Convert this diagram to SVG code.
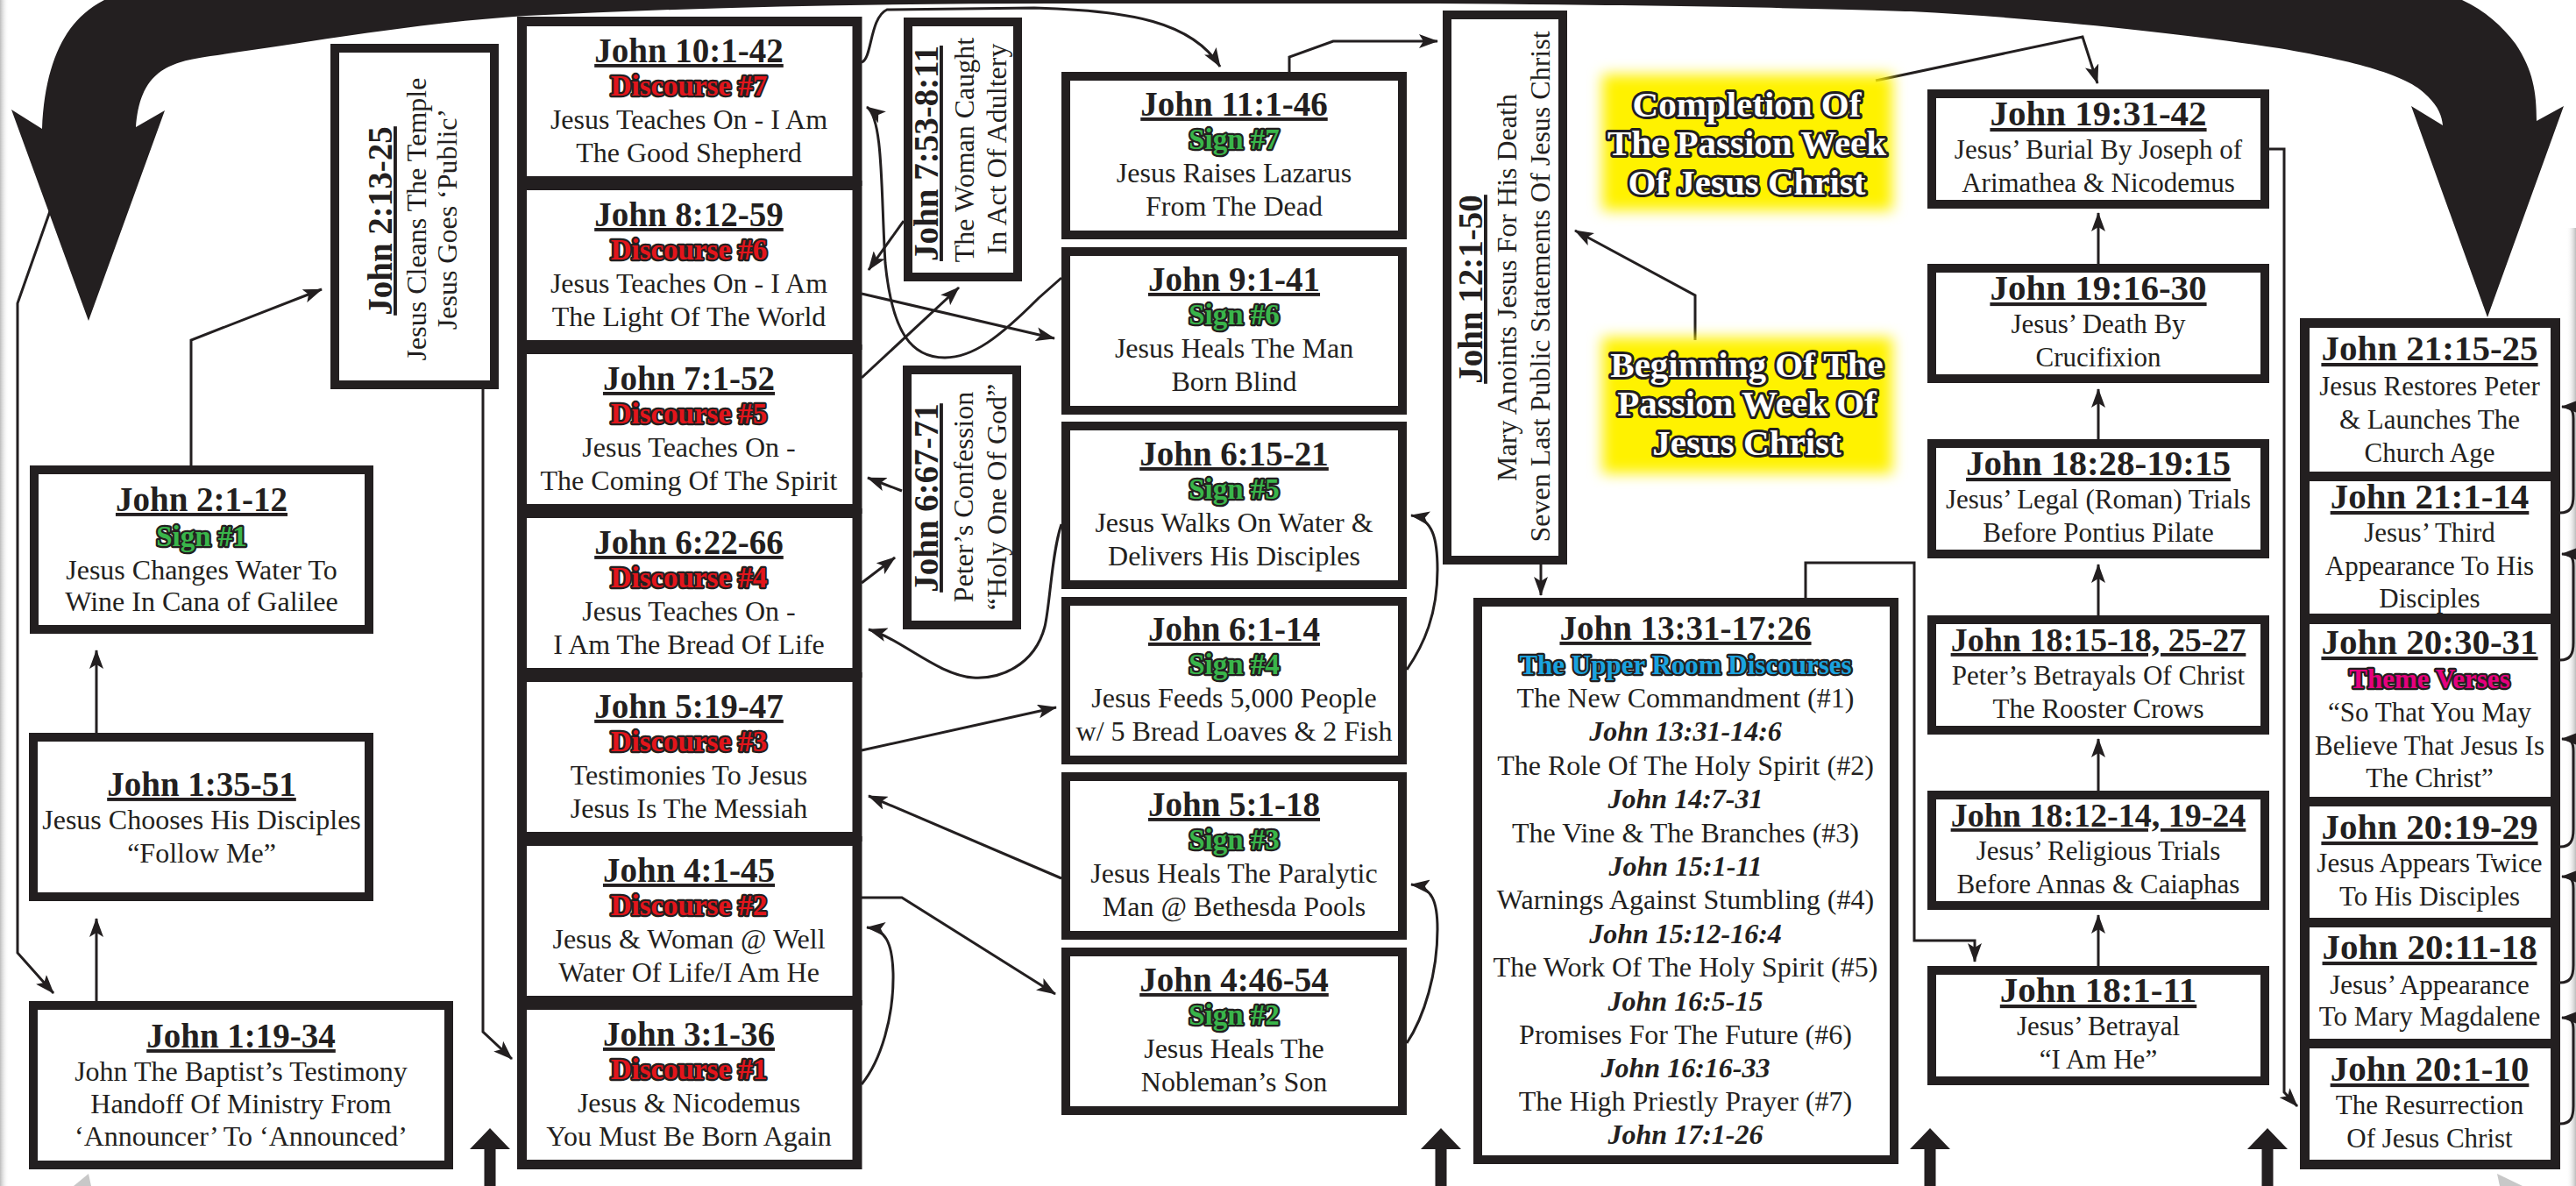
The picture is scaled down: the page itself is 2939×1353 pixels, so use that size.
<svg xmlns="http://www.w3.org/2000/svg" width="2939" height="1353" viewBox="0 0 2939 1353">
<defs>
<style>
.box{fill:#fff;stroke:#231f20;stroke-width:10}
.bx{fill:#fff;stroke:#231f20;stroke-width:11}
text{font-family:"Liberation Serif","Times New Roman",serif;fill:#231f20;text-anchor:middle}
.ti{font-weight:bold;font-size:39px;text-decoration:underline}
.ti2{font-weight:bold;font-size:41px;text-decoration:underline}
.ti3{font-weight:bold;font-size:38px;text-decoration:underline}
.b{font-size:32px}
.b2{font-size:31px}
.it{font-size:32px;font-weight:bold;font-style:italic}
.sg{font-weight:bold;font-size:33px;fill:#39b54a;stroke:#231f20;stroke-width:4.5;paint-order:stroke;stroke-linejoin:round}
.dc{font-weight:bold;font-size:33px;fill:#e3151b;stroke:#231f20;stroke-width:4.5;paint-order:stroke;stroke-linejoin:round}
.up{font-weight:bold;font-size:31px;fill:#1aa3df;stroke:#231f20;stroke-width:4.5;paint-order:stroke;stroke-linejoin:round}
.th{font-weight:bold;font-size:31px;fill:#e6007e;stroke:#231f20;stroke-width:4.5;paint-order:stroke;stroke-linejoin:round}
.yl{font-weight:bold;font-size:41px;fill:#fff;stroke:#231f20;stroke-width:6;paint-order:stroke;stroke-linejoin:round}
.ybox{fill:#fff200;filter:url(#glow)}
.cn{fill:none;stroke:#231f20;stroke-width:3;marker-end:url(#arr)}
.cs{fill:none;stroke:#231f20;stroke-width:3;marker-end:url(#arrS)}
.big{fill:#231f20}
</style>
<marker id="arr" markerUnits="userSpaceOnUse" viewBox="0 0 22 16" markerWidth="22" markerHeight="16" refX="21" refY="8" orient="auto"><path d="M0,0 L22,8 L0,16 L5,8 Z" fill="#231f20"/></marker>
<marker id="arrS" markerUnits="userSpaceOnUse" viewBox="0 0 18 14" markerWidth="18" markerHeight="14" refX="17" refY="7" orient="auto"><path d="M0,0 L18,7 L0,14 Z" fill="#231f20"/></marker>
<filter id="glow" x="-15%" y="-25%" width="130%" height="150%"><feGaussianBlur stdDeviation="8"/></filter>
<linearGradient id="edgeL" x1="0" x2="1" y1="0" y2="0"><stop offset="0" stop-color="#bdbdbd"/><stop offset="1" stop-color="#fff" stop-opacity="0"/></linearGradient>
<linearGradient id="edgeR" x1="0" x2="1" y1="0" y2="0"><stop offset="0" stop-color="#fff" stop-opacity="0"/><stop offset="1" stop-color="#bdbdbd"/></linearGradient>
</defs>
<rect x="0" y="0" width="2939" height="1353" fill="#fff"/>
<rect x="0" y="0" width="10" height="1353" fill="url(#edgeL)"/>
<rect x="2928" y="260" width="11" height="1093" fill="url(#edgeR)"/>

<g id="big-arrows">
<path class="big" d="M48,147 L13,125 L101,366 L188,126 L155,145 C157,118 164,95 184,81 C200,71 214,68 240,64 C380,44 480,26 600,18 C800,8 1000,4 1200,4 L1640,4 C1900,6 2100,10 2180,13 C2350,22 2500,40 2600,55 C2700,72 2750,88 2770,110 C2782,122 2786,132 2787,143 L2751,121 L2838,362 L2925,121 L2894,138 C2894,105 2890,80 2870,50 C2855,30 2835,12 2809,0 L2790,-40 L130,-40 L119,0 C100,10 90,20 80,33 C62,58 50,95 48,147 Z"/>
<path class="big" d="M559,1287 L582,1311 L565.5,1311 L565.5,1353 L552.5,1353 L552.5,1311 L536,1311 Z"/>
<path class="big" d="M1644,1287 L1667,1311 L1650.5,1311 L1650.5,1353 L1637.5,1353 L1637.5,1311 L1621,1311 Z"/>
<path class="big" d="M2202,1287 L2225,1311 L2208.5,1311 L2208.5,1353 L2195.5,1353 L2195.5,1311 L2179,1311 Z"/>
<path class="big" d="M2587,1287 L2610,1311 L2593.5,1311 L2593.5,1353 L2580.5,1353 L2580.5,1311 L2564,1311 Z"/>
<polygon points="101,1339 84,1353 104,1353" fill="#c8c8c8"/>
<polygon points="2849,1339 2878,1353 2852,1353" fill="#c8c8c8"/>
</g>

<g id="connectors">
<path class="cn" d="M57,241 L20,346 L20,1087 L61,1133"/>
<path class="cn" d="M110,1142 L110,1048"/>
<path class="cn" d="M110,836 L110,742"/>
<path class="cn" d="M218,531 L218,388 L367,330"/>
<path class="cn" d="M551,444 L551,1177 L584,1208"/>
<path class="cn" d="M983,71 C995,68 992,20 1012,11 L1180,9 C1290,12 1360,25 1392,76"/>
<path class="cn" d="M1211,317 L1185,340 C1140,385 1110,408 1078,408 C1040,408 1018,380 1010,300 C1005,220 1008,135 989,122"/>
<path class="cn" d="M1031,252 L991,308"/>
<path class="cn" d="M983,335 L1203,386"/>
<path class="cn" d="M983,431 L1094,328"/>
<path class="cn" d="M1029,560 L990,545"/>
<path class="cn" d="M983,665 L1021,636"/>
<path class="cn" d="M1211,598 C1200,630 1198,690 1192,715 C1180,760 1140,775 1110,773 C1070,770 1030,730 991,718"/>
<path class="cn" d="M983,856 L1205,807"/>
<path class="cn" d="M1211,1002 L991,908"/>
<path class="cn" d="M983,1024 L1029,1024 L1204,1134"/>
<path class="cn" d="M983,1237 C1005,1210 1020,1160 1019,1110 C1018,1075 1010,1060 989,1058"/>
<path class="cn" d="M1605,764 C1625,735 1640,700 1640,650 C1640,615 1635,592 1610,588"/>
<path class="cn" d="M1605,1190 C1625,1160 1640,1110 1640,1060 C1640,1030 1635,1012 1610,1009"/>
<path class="cn" d="M1471,82 L1471,65 L1521,47 L1640,47"/>
<path class="cn" d="M1758,644 L1758,679"/>
<path class="cn" d="M1934,388 L1934,337 L1797,263"/>
<path class="cn" d="M2140,92 L2376,42 L2393,95"/>
<path class="cn" d="M2060,682 L2060,642 L2184,642 L2184,1073 L2253,1073 L2253,1097"/>
<path class="cn" d="M2394,301 L2394,243"/>
<path class="cn" d="M2394,501 L2394,444"/>
<path class="cn" d="M2394,702 L2394,644"/>
<path class="cn" d="M2394,902 L2394,843"/>
<path class="cn" d="M2394,1102 L2394,1044"/>
<path class="cn" d="M2589,170 L2606,170 L2606,1246 L2621,1262"/>
<path class="cs" d="M2921,585 C2932,585 2936,579 2936,565 L2936,478 C2936,468 2934,464 2923,464"/>
<path class="cs" d="M2921,753 C2932,753 2936,747 2936,733 L2936,646 C2936,636 2934,632 2923,632"/>
<path class="cs" d="M2921,966 C2932,966 2936,960 2936,946 L2936,857 C2936,847 2934,843 2923,843"/>
<path class="cs" d="M2921,1121 C2932,1121 2936,1115 2936,1101 L2936,1014 C2936,1004 2934,1000 2923,1000"/>
<path class="cs" d="M2921,1282 C2932,1282 2936,1276 2936,1262 L2936,1175 C2936,1165 2934,1161 2923,1161"/>
</g>

<g id="n-john-1-19-34"><rect class="box" x="38" y="1147" width="474" height="182"/>
<text x="275" y="1195" class="ti">John 1:19-34</text>
<text x="275" y="1233" class="b">John The Baptist’s Testimony</text>
<text x="275" y="1270" class="b">Handoff Of Ministry From</text>
<text x="275" y="1307" class="b">‘Announcer’ To ‘Announced’</text></g>
<g id="n-john-1-35-51"><rect class="box" x="38" y="841" width="383" height="182"/>
<text x="230" y="908" class="ti">John 1:35-51</text>
<text x="230" y="946" class="b">Jesus Chooses His Disciples</text>
<text x="230" y="984" class="b">“Follow Me”</text></g>
<g id="n-john-2-1-12"><rect class="box" x="39" y="536" width="382" height="182"/>
<text x="230" y="583" class="ti">John 2:1-12</text>
<text x="230" y="623" class="sg">Sign #1</text>
<text x="230" y="661" class="b">Jesus Changes Water To</text>
<text x="230" y="697" class="b">Wine In Cana of Galilee</text></g>
<g id="n-john-2-13-25"><rect class="box" x="382" y="55" width="182" height="384"/>
<text class="ti" transform="translate(447,252) rotate(-90)">John 2:13-25</text>
<text class="b" transform="translate(486,250) rotate(-90)">Jesus Cleans The Temple</text>
<text class="b" transform="translate(521,250) rotate(-90)">Jesus Goes ‘Public’</text></g>

<g id="n-john-10-1-42"><rect class="bx" x="595.5" y="24.5" width="382.5" height="182"/>
<text x="786" y="71" class="ti">John 10:1-42</text><text x="786" y="109" class="dc">Discourse #7</text>
<text x="786" y="147" class="b">Jesus Teaches On - I Am</text><text x="786" y="185" class="b">The Good Shepherd</text></g>
<g id="n-john-8-12-59"><rect class="bx" x="595.5" y="211.5" width="382.5" height="182"/>
<text x="786" y="258" class="ti">John 8:12-59</text><text x="786" y="296" class="dc">Discourse #6</text>
<text x="786" y="334" class="b">Jesus Teaches On - I Am</text><text x="786" y="372" class="b">The Light Of The World</text></g>
<g id="n-john-7-1-52"><rect class="bx" x="595.5" y="398.5" width="382.5" height="182"/>
<text x="786" y="445" class="ti">John 7:1-52</text><text x="786" y="483" class="dc">Discourse #5</text>
<text x="786" y="521" class="b">Jesus Teaches On -</text><text x="786" y="559" class="b">The Coming Of The Spirit</text></g>
<g id="n-john-6-22-66"><rect class="bx" x="595.5" y="585.5" width="382.5" height="182"/>
<text x="786" y="632" class="ti">John 6:22-66</text><text x="786" y="670" class="dc">Discourse #4</text>
<text x="786" y="708" class="b">Jesus Teaches On -</text><text x="786" y="746" class="b">I Am The Bread Of Life</text></g>
<g id="n-john-5-19-47"><rect class="bx" x="595.5" y="772.5" width="382.5" height="182"/>
<text x="786" y="819" class="ti">John 5:19-47</text><text x="786" y="857" class="dc">Discourse #3</text>
<text x="786" y="895" class="b">Testimonies To Jesus</text><text x="786" y="933" class="b">Jesus Is The Messiah</text></g>
<g id="n-john-4-1-45"><rect class="bx" x="595.5" y="959.5" width="382.5" height="182"/>
<text x="786" y="1006" class="ti">John 4:1-45</text><text x="786" y="1044" class="dc">Discourse #2</text>
<text x="786" y="1082" class="b">Jesus &amp; Woman @ Well</text><text x="786" y="1120" class="b">Water Of Life/I Am He</text></g>
<g id="n-john-3-1-36"><rect class="bx" x="595.5" y="1146.5" width="382.5" height="182"/>
<text x="786" y="1193" class="ti">John 3:1-36</text><text x="786" y="1231" class="dc">Discourse #1</text>
<text x="786" y="1269" class="b">Jesus &amp; Nicodemus</text><text x="786" y="1307" class="b">You Must Be Born Again</text></g>

<g id="n-john-7-53-8-11"><rect class="box" x="1036" y="25" width="125" height="291"/>
<text class="ti" transform="translate(1070,175) rotate(-90)">John 7:53-8:11</text>
<text class="b" transform="translate(1111,171) rotate(-90)">The Woman Caught</text>
<text class="b" transform="translate(1148,170) rotate(-90)">In Act Of Adultery</text></g>
<g id="n-john-6-67-71"><rect class="box" x="1035" y="422" width="125" height="291"/>
<text class="ti" transform="translate(1070,568) rotate(-90)">John 6:67-71</text>
<text class="b" transform="translate(1110,567) rotate(-90)">Peter’s Confession</text>
<text class="b" transform="translate(1148,567) rotate(-90)">“Holy One Of God”</text></g>

<g id="n-john-11-1-46"><rect class="box" x="1216" y="87" width="384" height="181"/>
<text x="1408" y="132" class="ti">John 11:1-46</text><text x="1408" y="170" class="sg">Sign #7</text>
<text x="1408" y="208" class="b">Jesus Raises Lazarus</text><text x="1408" y="246" class="b">From The Dead</text></g>
<g id="n-john-9-1-41"><rect class="box" x="1216" y="287" width="384" height="181"/>
<text x="1408" y="332" class="ti">John 9:1-41</text><text x="1408" y="370" class="sg">Sign #6</text>
<text x="1408" y="408" class="b">Jesus Heals The Man</text><text x="1408" y="446" class="b">Born Blind</text></g>
<g id="n-john-6-15-21"><rect class="box" x="1216" y="486" width="384" height="181"/>
<text x="1408" y="531" class="ti">John 6:15-21</text><text x="1408" y="569" class="sg">Sign #5</text>
<text x="1408" y="607" class="b">Jesus Walks On Water &amp;</text><text x="1408" y="645" class="b">Delivers His Disciples</text></g>
<g id="n-john-6-1-14"><rect class="box" x="1216" y="686" width="384" height="181"/>
<text x="1408" y="731" class="ti">John 6:1-14</text><text x="1408" y="769" class="sg">Sign #4</text>
<text x="1408" y="807" class="b">Jesus Feeds 5,000 People</text><text x="1408" y="845" class="b">w/ 5 Bread Loaves &amp; 2 Fish</text></g>
<g id="n-john-5-1-18"><rect class="box" x="1216" y="886" width="384" height="181"/>
<text x="1408" y="931" class="ti">John 5:1-18</text><text x="1408" y="969" class="sg">Sign #3</text>
<text x="1408" y="1007" class="b">Jesus Heals The Paralytic</text><text x="1408" y="1045" class="b">Man @ Bethesda Pools</text></g>
<g id="n-john-4-46-54"><rect class="box" x="1216" y="1086" width="384" height="181"/>
<text x="1408" y="1131" class="ti">John 4:46-54</text><text x="1408" y="1169" class="sg">Sign #2</text>
<text x="1408" y="1207" class="b">Jesus Heals The</text><text x="1408" y="1245" class="b">Nobleman’s Son</text></g>

<g id="n-john-12-1-50"><rect class="box" x="1651" y="17" width="132" height="622"/>
<text class="ti" transform="translate(1691,330) rotate(-90)">John 12:1-50</text>
<text class="b" transform="translate(1730,328) rotate(-90)">Mary Anoints Jesus For His Death</text>
<text class="b" transform="translate(1768,327) rotate(-90)">Seven Last Public Statements Of Jesus Christ</text></g>

<g id="n-completion"><rect class="ybox" x="1828" y="85" width="331" height="155"/>
<text x="1993" y="133" class="yl">Completion Of</text>
<text x="1993" y="177" class="yl">The Passion Week</text>
<text x="1993" y="222" class="yl">Of Jesus Christ</text></g>
<g id="n-beginning"><rect class="ybox" x="1828" y="385" width="331" height="155"/>
<text x="1993" y="430" class="yl">Beginning Of The</text>
<text x="1993" y="474" class="yl">Passion Week Of</text>
<text x="1993" y="519" class="yl">Jesus Christ</text></g>

<g id="n-john-13-31-17-26"><rect class="box" x="1686" y="687" width="475" height="636"/>
<text x="1923" y="730" class="ti">John 13:31-17:26</text>
<text x="1923" y="769" class="up">The Upper Room Discourses</text>
<text x="1923" y="807" class="b">The New Commandment (#1)</text>
<text x="1923" y="845" class="it">John 13:31-14:6</text>
<text x="1923" y="884" class="b">The Role Of The Holy Spirit (#2)</text>
<text x="1923" y="922" class="it">John 14:7-31</text>
<text x="1923" y="961" class="b">The Vine &amp; The Branches (#3)</text>
<text x="1923" y="999" class="it">John 15:1-11</text>
<text x="1923" y="1037" class="b">Warnings Against Stumbling (#4)</text>
<text x="1923" y="1076" class="it">John 15:12-16:4</text>
<text x="1923" y="1114" class="b">The Work Of The Holy Spirit (#5)</text>
<text x="1923" y="1153" class="it">John 16:5-15</text>
<text x="1923" y="1191" class="b">Promises For The Future (#6)</text>
<text x="1923" y="1229" class="it">John 16:16-33</text>
<text x="1923" y="1267" class="b">The High Priestly Prayer (#7)</text>
<text x="1923" y="1305" class="it">John 17:1-26</text></g>

<g id="n-john-19-31-42"><rect class="box" x="2204" y="107" width="380" height="126"/>
<text x="2394" y="143" class="ti2">John 19:31-42</text>
<text x="2394" y="181" class="b2">Jesus’ Burial By Joseph of</text>
<text x="2394" y="219" class="b2">Arimathea &amp; Nicodemus</text></g>
<g id="n-john-19-16-30"><rect class="box" x="2204" y="306" width="380" height="126"/>
<text x="2394" y="342" class="ti2">John 19:16-30</text>
<text x="2394" y="380" class="b2">Jesus’ Death By</text>
<text x="2394" y="418" class="b2">Crucifixion</text></g>
<g id="n-john-18-28-19-15"><rect class="box" x="2204" y="506" width="380" height="126"/>
<text x="2394" y="542" class="ti2">John 18:28-19:15</text>
<text x="2394" y="580" class="b2">Jesus’ Legal (Roman) Trials</text>
<text x="2394" y="618" class="b2">Before Pontius Pilate</text></g>
<g id="n-john-18-15-18"><rect class="box" x="2204" y="707" width="380" height="126"/>
<text x="2394" y="743" class="ti3">John 18:15-18, 25-27</text>
<text x="2394" y="781" class="b2">Peter’s Betrayals Of Christ</text>
<text x="2394" y="819" class="b2">The Rooster Crows</text></g>
<g id="n-john-18-12-14"><rect class="box" x="2204" y="907" width="380" height="126"/>
<text x="2394" y="943" class="ti3">John 18:12-14, 19-24</text>
<text x="2394" y="981" class="b2">Jesus’ Religious Trials</text>
<text x="2394" y="1019" class="b2">Before Annas &amp; Caiaphas</text></g>
<g id="n-john-18-1-11"><rect class="box" x="2204" y="1107" width="380" height="126"/>
<text x="2394" y="1143" class="ti2">John 18:1-11</text>
<text x="2394" y="1181" class="b2">Jesus’ Betrayal</text>
<text x="2394" y="1219" class="b2">“I Am He”</text></g>

<g id="n-john-21-15-25"><rect class="bx" x="2629.5" y="368.5" width="286" height="175"/>
<text x="2772" y="411" class="ti2">John 21:15-25</text>
<text x="2772" y="451" class="b2">Jesus Restores Peter</text>
<text x="2772" y="489" class="b2">&amp; Launches The</text>
<text x="2772" y="527" class="b2">Church Age</text></g>
<g id="n-john-21-1-14"><rect class="bx" x="2629.5" y="543.5" width="286" height="162"/>
<text x="2772" y="580" class="ti2">John 21:1-14</text>
<text x="2772" y="618" class="b2">Jesus’ Third</text>
<text x="2772" y="656" class="b2">Appearance To His</text>
<text x="2772" y="693" class="b2">Disciples</text></g>
<g id="n-john-20-30-31"><rect class="bx" x="2629.5" y="706.5" width="286" height="208"/>
<text x="2772" y="746" class="ti2">John 20:30-31</text>
<text x="2772" y="785" class="th">Theme Verses</text>
<text x="2772" y="823" class="b2">“So That You May</text>
<text x="2772" y="861" class="b2">Believe That Jesus Is</text>
<text x="2772" y="898" class="b2">The Christ”</text></g>
<g id="n-john-20-19-29"><rect class="bx" x="2629.5" y="914.5" width="286" height="138"/>
<text x="2772" y="957" class="ti2">John 20:19-29</text>
<text x="2772" y="995" class="b2">Jesus Appears Twice</text>
<text x="2772" y="1033" class="b2">To His Disciples</text></g>
<g id="n-john-20-11-18"><rect class="bx" x="2629.5" y="1052.5" width="286" height="138"/>
<text x="2772" y="1094" class="ti2">John 20:11-18</text>
<text x="2772" y="1134" class="b2">Jesus’ Appearance</text>
<text x="2772" y="1170" class="b2">To Mary Magdalene</text></g>
<g id="n-john-20-1-10"><rect class="bx" x="2629.5" y="1190.5" width="286" height="138"/>
<text x="2772" y="1233" class="ti2">John 20:1-10</text>
<text x="2772" y="1271" class="b2">The Resurrection</text>
<text x="2772" y="1309" class="b2">Of Jesus Christ</text></g>
</svg>
